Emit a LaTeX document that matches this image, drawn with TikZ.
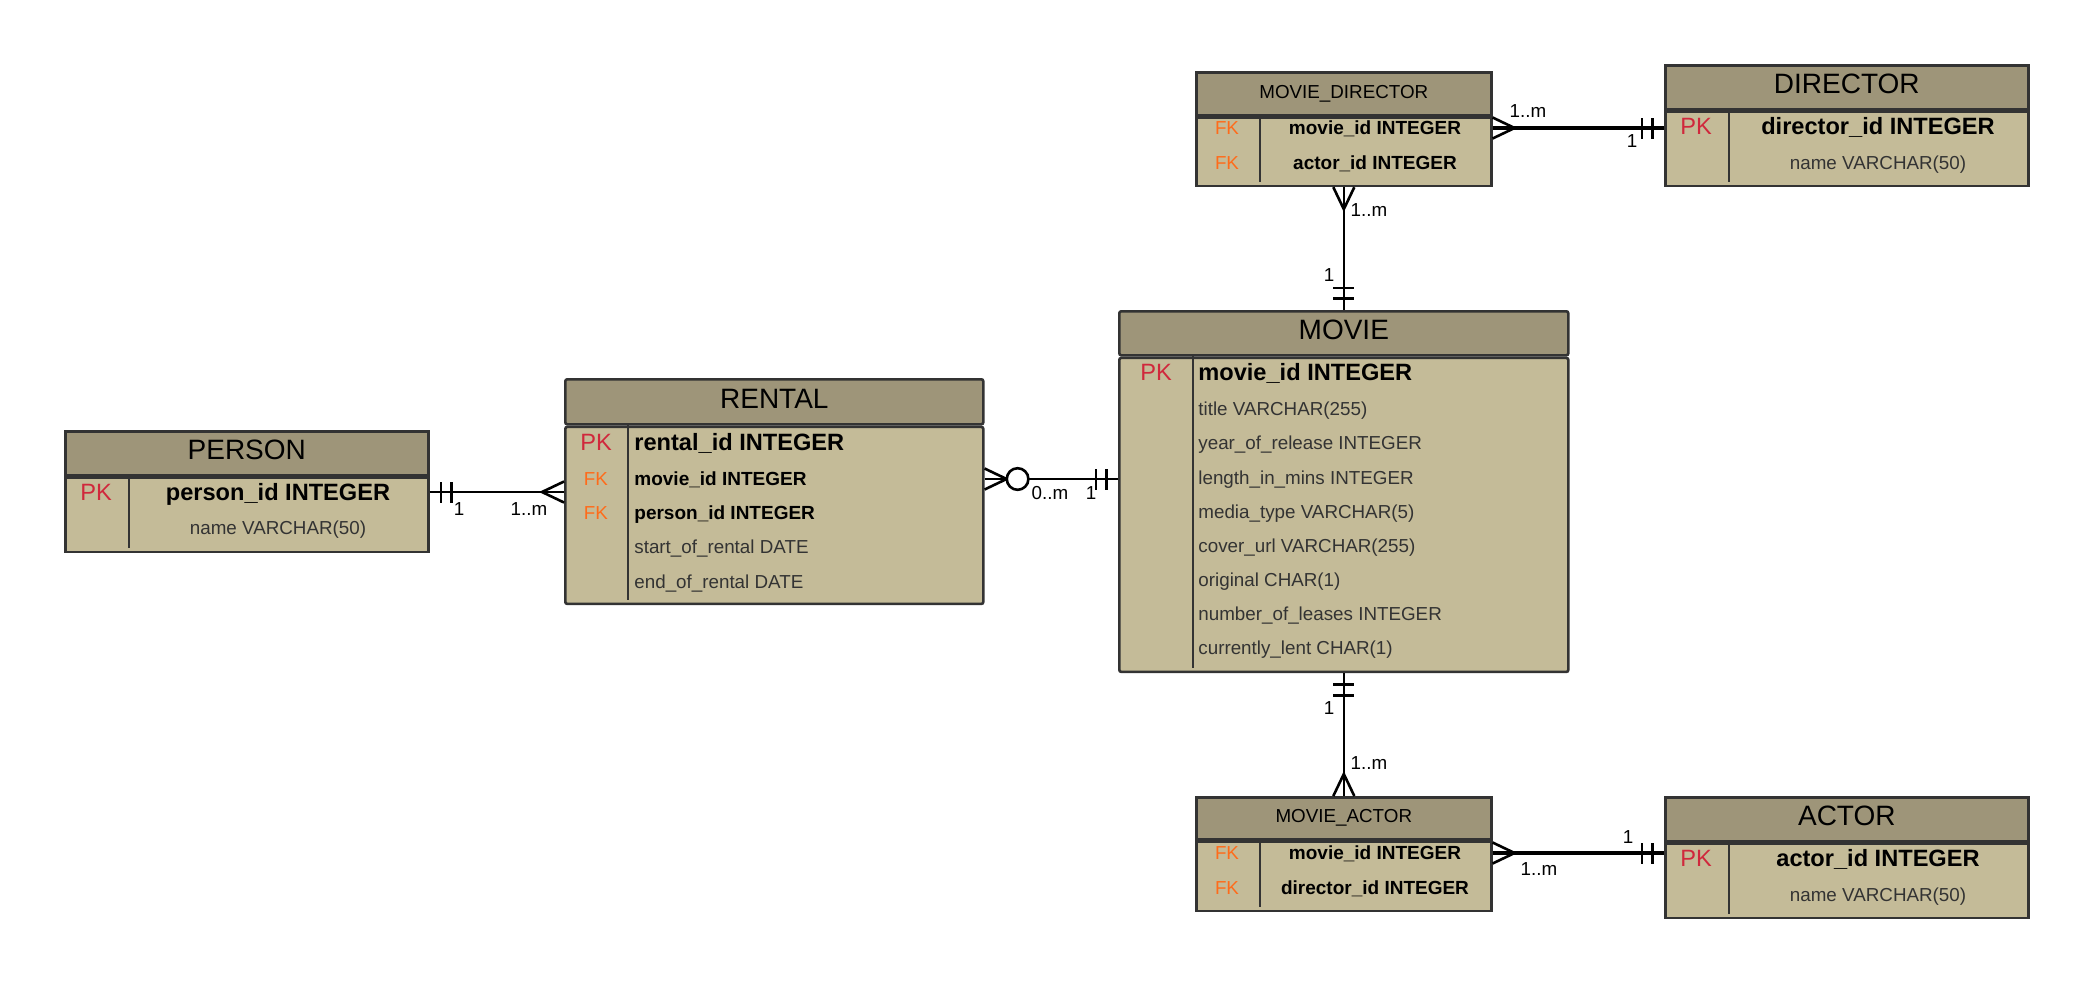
\documentclass[tikz,border=0pt]{standalone}
\usepackage{fontspec}
\setmainfont{Liberation Sans}
\usetikzlibrary{decorations.markings}
\definecolor{hdrbrown}{RGB}{158, 149, 121}
\definecolor{bodytan}{RGB}{196, 187, 152}
\definecolor{bordgray}{RGB}{51, 51, 51}
\definecolor{pkred}{RGB}{208, 40, 60}
\definecolor{fkorange}{RGB}{255, 107, 26}
\definecolor{txtgray}{RGB}{51, 51, 51}

\begin{document}
\begin{tikzpicture}[
    x = 0.5pt, y = -0.5pt,
    hdr/.style = {draw=bordgray, fill=hdrbrown, line width=1.3pt, anchor=north west, inner sep=0pt, minimum height=22pt, text height=10pt, text depth=3.5pt, font=\fontsize{14}{16}\selectfont},
    shdr/.style = {hdr, text height=6.7pt, text depth=2.5pt, font=\fontsize{9.4}{11}\selectfont},
    bdy/.style = {draw=bordgray, fill=bodytan, line width=1.3pt, anchor=north west, inner sep=0pt},
    div/.style = {draw=bordgray, line width=1pt},
    row/.style = {anchor=west, inner sep=0pt},
    pk/.style = {text=pkred, text height=8.4pt, text depth=0pt, font=\fontsize{11.8}{14}\selectfont},
    fk/.style = {text=fkorange, text height=6.7pt, text depth=0pt, font=\fontsize{9.4}{11}\selectfont},
    key/.style = {text height=8.4pt, text depth=0pt, font=\bfseries\fontsize{11.8}{14}\selectfont},
    fkey/.style = {text height=6.8pt, text depth=0pt, font=\bfseries\fontsize{9.5}{11}\selectfont},
    col/.style = {text=txtgray, text height=6.7pt, text depth=0pt, font=\fontsize{9.4}{11}\selectfont},
    lbl/.style = {inner sep=0pt, text height=6.7pt, text depth=0pt, font=\fontsize{9.4}{11}\selectfont},
    rel/.style = {line width=1.3pt},
    relb/.style = {line width=2pt},
    one1/.style = {postaction={decorate, decoration={markings, mark=at position 0 with {\draw[line width=1.3pt] (5.75pt,-5.25pt) -- (5.75pt,5.25pt) (11pt,-5.25pt) -- (11pt,5.25pt);}}}},
    one2/.style = {postaction={decorate, decoration={markings, mark=at position 1 with {\draw[line width=1.3pt] (-5.75pt,-5.25pt) -- (-5.75pt,5.25pt) (-11pt,-5.25pt) -- (-11pt,5.25pt);}}}},
    many1/.style = {postaction={decorate, decoration={markings, mark=at position 0 with {\draw[line width=1.3pt] (0pt,5.25pt) -- (11pt,0pt) -- (0pt,-5.25pt);}}}},
    many2/.style = {postaction={decorate, decoration={markings, mark=at position 1 with {\draw[line width=1.3pt] (0pt,5.25pt) -- (-11pt,0pt) -- (0pt,-5.25pt);}}}},
    zmany1/.style = {many1, postaction={decorate, decoration={markings, mark=at position 0 with {\draw[line width=1.3pt, fill=white] (16.5pt,0pt) circle (5.4pt);}}}}
]
\useasboundingbox (0,0) rectangle (2087,980);

% PERSON
\node[hdr, minimum width=181.5pt] (person) at (64,430) {PERSON};
\node[bdy, minimum width=181.5pt, minimum height=37pt] (personb) at (person.south west) {};
\draw[div] (129,474) -- (129,548);
\node[pk] (person-pk) at (96,492) {PK};
\node[key] (person-id) at (278,492) {person\_id INTEGER};
\node[col] (person-name) at (278,528) {name VARCHAR(50)};

% RENTAL
\node[hdr, minimum width=209pt, minimum height=22.5pt, rounded corners=1pt] (rental) at (564,378) {RENTAL};
\node[bdy, minimum width=209pt, minimum height=88.5pt, rounded corners=1pt] (rentalb) at (rental.south west) {};
\draw[div] (628,423) -- (628,600);
\node[pk] (rental-pk) at (596,442) {PK};
\node[fk] (rental-fk1) at (596,479) {FK};
\node[fk] (rental-fk2) at (596,513) {FK};
\node[key, row] (rental-id) at (634,442) {rental\_id INTEGER};
\node[fkey, row] (rental-mid) at (634,479) {movie\_id INTEGER};
\node[fkey, row] (rental-pid) at (634,513) {person\_id INTEGER};
\node[col, row] (rental-start) at (634,547) {start\_of\_rental DATE};
\node[col, row] (rental-end) at (634,582) {end\_of\_rental DATE};

% MOVIE
\node[hdr, minimum width=224.5pt, rounded corners=1pt] (movie) at (1118,310) {MOVIE};
\node[bdy, minimum width=224.5pt, minimum height=157pt, rounded corners=1pt] (movieb) at (movie.south west) {};
\draw[div] (1193,354) -- (1193,668);
\node[pk] (movie-pk) at (1156,372) {PK};
\node[key, row] (movie-id) at (1198,372) {movie\_id INTEGER};
\node[col, row] (movie-title) at (1198,409) {title VARCHAR(255)};
\node[col, row] (movie-year) at (1198,443) {year\_of\_release INTEGER};
\node[col, row] (movie-len) at (1198,478) {length\_in\_mins INTEGER};
\node[col, row] (movie-media) at (1198,512) {media\_type VARCHAR(5)};
\node[col, row] (movie-cover) at (1198,546) {cover\_url VARCHAR(255)};
\node[col, row] (movie-orig) at (1198,580) {original CHAR(1)};
\node[col, row] (movie-leases) at (1198,614) {number\_of\_leases INTEGER};
\node[col, row] (movie-lent) at (1198,648) {currently\_lent CHAR(1)};

% MOVIE_DIRECTOR
\node[shdr, minimum width=147.5pt, minimum height=21.5pt] (md) at (1195,71) {MOVIE\_DIRECTOR};
\node[bdy, minimum width=147.5pt, minimum height=34pt] (mdb) at (md.south west) {};
\draw[div] (1260,114) -- (1260,182);
\node[fk] (md-fk1) at (1227,128) {FK};
\node[fk] (md-fk2) at (1227,163) {FK};
\node[fkey] (md-mid) at (1375,128) {movie\_id INTEGER};
\node[fkey] (md-aid) at (1375,163) {actor\_id INTEGER};

% DIRECTOR
\node[hdr, minimum width=181.5pt] (director) at (1664,64) {DIRECTOR};
\node[bdy, minimum width=181.5pt, minimum height=37pt] (directorb) at (director.south west) {};
\draw[div] (1729,108) -- (1729,182);
\node[pk] (director-pk) at (1696,126) {PK};
\node[key] (director-id) at (1878,126) {director\_id INTEGER};
\node[col] (director-name) at (1878,163) {name VARCHAR(50)};

% MOVIE_ACTOR
\node[shdr, minimum width=147.5pt, minimum height=21pt] (ma) at (1195,796) {MOVIE\_ACTOR};
\node[bdy, minimum width=147.5pt, minimum height=34.5pt] (mab) at (ma.south west) {};
\draw[div] (1260,838) -- (1260,907);
\node[fk] (ma-fk1) at (1227,853) {FK};
\node[fk] (ma-fk2) at (1227,888) {FK};
\node[fkey] (ma-mid) at (1375,853) {movie\_id INTEGER};
\node[fkey] (ma-did) at (1375,888) {director\_id INTEGER};

% ACTOR
\node[hdr, minimum width=181.5pt] (actor) at (1664,796) {ACTOR};
\node[bdy, minimum width=181.5pt, minimum height=37pt] (actorb) at (actor.south west) {};
\draw[div] (1729,840) -- (1729,914);
\node[pk] (actor-pk) at (1696,858) {PK};
\node[key] (actor-id) at (1878,858) {actor\_id INTEGER};
\node[col] (actor-name) at (1878,895) {name VARCHAR(50)};

% relations
\draw[rel, one1, many2] (personb.east |- person-id) -- (rentalb.west |- person-id);
\draw[rel, zmany1, one2] (rentalb.east |- rental-mid) -- (movieb.west |- rental-mid);
\draw[relb, many1, one2] (mdb.east |- md-mid) -- (directorb.west |- md-mid);
\draw[rel, many1, one2] (mdb.south) -- (movie.north);
\draw[rel, one1, many2] (movieb.south) -- (ma.north);
\draw[relb, many1, one2] (mab.east |- ma-mid) -- (actorb.west |- ma-mid);

\node[lbl] (l1a) at (459,509) {1};
\node[lbl] (l1b) at (529,509) {1..m};
\node[lbl] (l2a) at (1050,493) {0..m};
\node[lbl] (l2b) at (1091,493) {1};
\node[lbl] (l3a) at (1528,111) {1..m};
\node[lbl] (l3b) at (1632,141) {1};
\node[lbl] (l4a) at (1369,210) {1..m};
\node[lbl] (l4b) at (1329,275) {1};
\node[lbl] (l5a) at (1329,708) {1};
\node[lbl] (l5b) at (1369,763) {1..m};
\node[lbl] (l6a) at (1539,869) {1..m};
\node[lbl] (l6b) at (1628,837) {1};

\end{tikzpicture}
\end{document}
